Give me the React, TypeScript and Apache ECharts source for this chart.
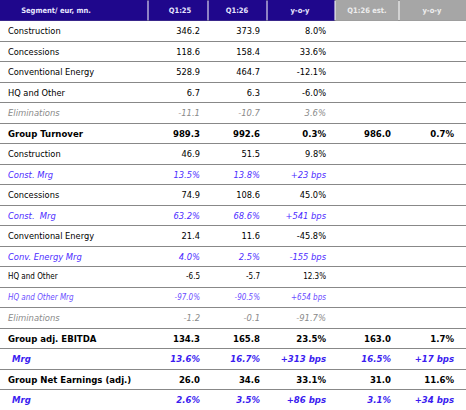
import React, { useEffect, useRef } from "react";
import * as echarts from "echarts";

// ---- data ----
const headers = ["Segment/ eur, mn.", "Q1:25", "Q1:26", "y-o-y", "Q1:26 est.", "y-o-y"];
const labels = [
  "Construction", "Concessions", "Conventional Energy", "HQ and Other", "Eliminations",
  "Group Turnover", "Construction", "Const. Mrg", "Concessions", "Const.  Mrg",
  "Conventional Energy", "Conv. Energy Mrg", "HQ and Other", "HQ and Other Mrg", "Eliminations",
  "Group adj. EBITDA", "Mrg", "Group Net Earnings (adj.)", "Mrg",
];
const q125 = [346.2, 118.6, 528.9, 6.7, -11.1, 989.3, 46.9, 13.5, 74.9, 63.2, 21.4, 4.0, -6.5, -97.0, -1.2, 134.3, 13.6, 26.0, 2.6];
const q126 = [373.9, 158.4, 464.7, 6.3, -10.7, 992.6, 51.5, 13.8, 108.6, 68.6, 11.6, 2.5, -5.7, -90.5, -0.1, 165.8, 16.7, 34.6, 3.5];
const yoy = [8.0, 33.6, -12.1, -6.0, 3.6, 0.3, 9.8, 23, 45.0, 541, -45.8, -155, 12.3, 654, -91.7, 23.5, 313, 33.1, 86];
const est: (number | null)[] = [null, null, null, null, null, 986.0, null, null, null, null, null, null, null, null, null, 163.0, 16.5, 31.0, 3.1];
const estYoy: (number | null)[] = [null, null, null, null, null, 0.7, null, null, null, null, null, null, null, null, null, 1.7, 17, 11.6, 34];
const rowKinds = [
  "normal", "normal", "normal", "normal", "elim",
  "total", "normal", "margin", "normal", "margin",
  "normal", "margin", "small", "smallMargin", "elim",
  "total", "totalMargin", "total", "totalMargin",
];

// ---- layout / styles ----
const FONT = "'DejaVu Sans Condensed', 'Liberation Sans Narrow', 'DejaVu Sans', sans-serif";
const colEdges = [0, 148, 208, 267, 335, 399, 466];
const headerCenters = [56, 180, 237, 300, 367, 432];
const valueRight = [200, 260, 326, 391, 454];
const headerFills = ["#1F078C", "#1F078C", "#1F078C", "#1F078C", "#A6A6A6", "#A6A6A6"];
const headerTextColors = ["#E8E6FF", "#E8E6FF", "#E8E6FF", "#E8E6FF", "#EEEEEE", "#EEEEEE"];

const kindStyle: Record<string, { size: number; weight: string; italic: boolean; color: string; indent: number }> = {
  normal: { size: 9.2, weight: "normal", italic: false, color: "#000000", indent: 8 },
  elim: { size: 9.4, weight: "normal", italic: true, color: "#8A8A8A", indent: 8 },
  total: { size: 9.5, weight: "bold", italic: false, color: "#000000", indent: 8 },
  margin: { size: 9.3, weight: "normal", italic: true, color: "#4B2BFF", indent: 8 },
  small: { size: 8, weight: "normal", italic: false, color: "#000000", indent: 8 },
  smallMargin: { size: 8, weight: "normal", italic: true, color: "#6A4CFF", indent: 8 },
  totalMargin: { size: 9.5, weight: "bold", italic: true, color: "#3A1CF0", indent: 12 },
};

const isMargin = (k: string) => k.toLowerCase().includes("margin");
const fmtLevel = (v: number, k: string) => (isMargin(k) ? v.toFixed(1) + "%" : v.toFixed(1));
const fmtChange = (v: number, k: string) =>
  isMargin(k) ? (v > 0 ? "+" : "") + Math.round(v) + " bps" : v.toFixed(1) + "%";

type Cell = { col: number; row: number; text: string; kind: string };

function buildCells(): Cell[] {
  const cells: Cell[] = [];
  headers.forEach((h, c) => cells.push({ col: c, row: 0, text: h, kind: "header" }));
  labels.forEach((lab, i) => {
    const k = rowKinds[i];
    const r = i + 1;
    cells.push({ col: 0, row: r, text: lab, kind: k });
    cells.push({ col: 1, row: r, text: fmtLevel(q125[i], k), kind: k });
    cells.push({ col: 2, row: r, text: fmtLevel(q126[i], k), kind: k });
    cells.push({ col: 3, row: r, text: fmtChange(yoy[i], k), kind: k });
    const e = est[i];
    if (e !== null) cells.push({ col: 4, row: r, text: fmtLevel(e, k), kind: k });
    const ey = estYoy[i];
    if (ey !== null) cells.push({ col: 5, row: r, text: fmtChange(ey, k), kind: k });
  });
  return cells;
}

export default function App() {
  const ref = useRef<HTMLDivElement>(null);
  useEffect(() => {
    if (!ref.current) return;
    const chart = echarts.init(ref.current, undefined, { renderer: "svg" });
    const cells = buildCells();
    const rowCats = ["header", ...labels.map((l, i) => l + "#" + i)];

    const renderItem = (params: any, api: any) => {
      const cell = cells[params.dataIndex];
      const row = api.value(1);
      const yc = api.coord([0, row])[1];
      const h = api.size([0, 1])[1];
      const px = (v: number) => api.coord([v, row])[0];
      if (cell.kind === "header") {
        const c = cell.col;
        const x0 = px(colEdges[c]) + (c > 0 ? 0.5 : 0);
        const x1 = px(colEdges[c + 1]) - (c < headers.length - 1 ? 0.5 : 0);
        return {
          type: "group",
          children: [
            {
              type: "rect",
              shape: { x: x0, y: yc - h / 2 - 1, width: x1 - x0, height: h + 1.2 },
              style: { fill: headerFills[c] },
            },
            {
              type: "text",
              style: {
                text: cell.text,
                x: px(headerCenters[c]),
                y: yc,
                align: "center",
                verticalAlign: "middle",
                fontSize: 7.5,
                fontWeight: "bold",
                fontFamily: FONT,
                fill: headerTextColors[c],
              },
            },
          ],
        };
      }
      const st = kindStyle[cell.kind];
      const isLabel = cell.col === 0;
      return {
        type: "text",
        style: {
          text: cell.text,
          x: isLabel ? px(st.indent) : px(valueRight[cell.col - 1]),
          y: yc,
          align: isLabel ? "left" : "right",
          verticalAlign: "middle",
          fontSize: st.size,
          fontWeight: st.weight,
          fontStyle: st.italic ? "italic" : "normal",
          fontFamily: FONT,
          fill: st.color,
        },
      };
    };

    chart.setOption({
      animation: false,
      backgroundColor: "#ffffff",
      grid: { left: 0, right: 0, top: 0, bottom: -2, containLabel: false },
      xAxis: { type: "value", min: 0, max: 466, show: false, splitLine: { show: false } },
      yAxis: {
        type: "category",
        inverse: true,
        data: rowCats,
        axisLine: { show: false },
        axisTick: { show: false },
        axisLabel: { show: false },
        splitLine: { show: true, lineStyle: { color: "#888888", width: 1 } },
      },
      series: [
        {
          type: "custom",
          coordinateSystem: "cartesian2d",
          renderItem,
          data: cells.map((c) => [c.col, c.row]),
          silent: true,
        },
      ],
    });
    return () => chart.dispose();
  }, []);
  return (
    <div
      ref={ref}
      style={{ position: "absolute", left: 0, top: 0, width: 466, height: 410, background: "#fff" }}
    />
  );
}
